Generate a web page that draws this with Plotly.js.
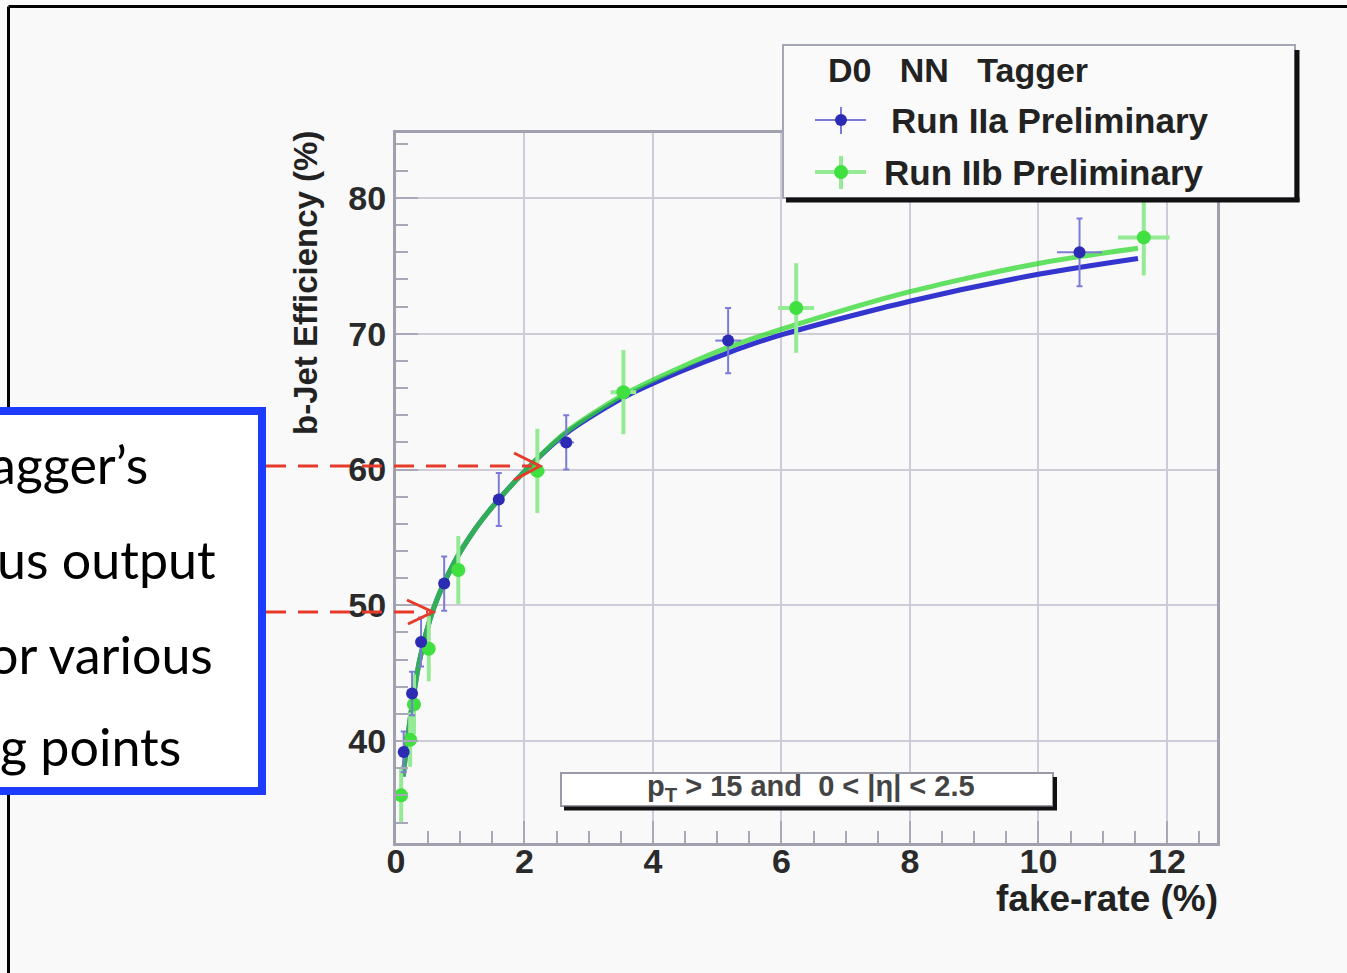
<!DOCTYPE html>
<html><head><meta charset="utf-8">
<script src="https://cdn.plot.ly/plotly-3.0.1.min.js"></script>
<style>html,body{margin:0;padding:0;background:#f9f9f9;overflow:hidden;} #chart{width:1347px;height:973px;}</style>
</head><body><div id="chart"></div>
<script>
// ---- data ----
const runIIaFakeRate = [0.12, 0.25, 0.39, 0.75, 1.60, 2.65, 5.17, 10.64];
const runIIaEff      = [39.2, 43.5, 47.3, 51.6, 57.8, 62.0, 69.5, 76.0];
const runIIaEffErr   = [1.5, 1.6, 1.8, 2.0, 1.95, 2.0, 2.4, 2.5];
const runIIaFakeErr  = [0.03, 0.04, 0.05, 0.06, 0.08, 0.12, 0.2, 0.35];

const runIIbFakeRate = [0.08, 0.22, 0.28, 0.51, 0.97, 2.20, 3.54, 6.23, 11.64];
const runIIbEff      = [36.0, 40.1, 42.7, 46.8, 52.6, 59.9, 65.7, 71.9, 77.1];
const runIIbEffErr   = [2.0, 2.0, 2.2, 2.4, 2.5, 3.1, 3.1, 3.3, 2.8];
const runIIbFakeErr  = [0.03, 0.04, 0.04, 0.05, 0.08, 0.12, 0.2, 0.28, 0.4];

const fitFakeRate = [0.11, 0.14, 0.24, 0.37, 0.58, 0.90, 1.23, 1.51, 2.03, 2.63, 3.54, 4.42, 5.17, 5.98, 8.0, 10.02, 11.55];
const fitIIaEff   = [37.4, 38.6, 42.3, 46.0, 49.7, 53.1, 55.6, 57.3, 60.0, 62.6, 65.3, 67.2, 68.6, 69.9, 72.4, 74.4, 75.55];
const fitIIbEff   = [37.4, 38.6, 42.3, 46.0, 49.7, 53.1, 55.6, 57.3, 60.0, 62.7, 65.5, 67.5, 69.0, 70.3, 73.1, 75.2, 76.3];

const xTickVals = [0, 2, 4, 6, 8, 10, 12];
const yTickVals = [40, 50, 60, 70, 80];
const seriesNames = ['Run IIa Preliminary', 'Run IIb Preliminary'];
const legendTitle = 'D0\u00a0\u00a0\u00a0NN\u00a0\u00a0\u00a0Tagger';
const xTitle = 'fake-rate (%)';
const yTitle = 'b-Jet Efficiency (%)';
const cutLabel = 'p<sub>T</sub> &gt; 15 and\u00a0 0 &lt; |η| &lt; 2.5';
const sideLines = ['agger’s', 'us output', 'or various', 'g points'];

// ---- layout geometry (pixels) ----
const W = 1347, H = 973;
const L = 396, R = 1217, T = 133, B = 843;
const px = v => (v - L) / (R - L);
const py = v => (B - v) / (B - T);
const path = pts => pts.map((p, i) => (i ? 'L' : 'M') + px(p[0]).toFixed(5) + ',' + py(p[1]).toFixed(5)).join(' ');

const FONT = 'Liberation Sans, Arial, Helvetica, sans-serif';
const BLUE = '#2b2bb4', BLUE_ERR = '#7c7cd6', BLUE_LINE = '#3434cf';
const GREEN = '#3fe03f', GREEN_ERR = '#95ea95', GREEN_LINE = '#2fd82f';

const traces = [
  {x: fitFakeRate, y: fitIIaEff, mode: 'lines', line: {color: BLUE_LINE, width: 5, shape: 'spline', smoothing: 0.8}, hoverinfo: 'skip'},
  {x: fitFakeRate, y: fitIIbEff, mode: 'lines', line: {color: GREEN_LINE, width: 5, shape: 'spline', smoothing: 0.8}, opacity: 0.75, hoverinfo: 'skip'},
  {x: runIIbFakeRate, y: runIIbEff, mode: 'markers', name: seriesNames[1],
   marker: {color: GREEN, size: 14},
   error_y: {type: 'data', array: runIIbEffErr, color: GREEN_ERR, thickness: 4, width: 0},
   error_x: {type: 'data', array: runIIbFakeErr, color: GREEN_ERR, thickness: 4, width: 0}},
  {x: runIIaFakeRate, y: runIIaEff, mode: 'markers', name: seriesNames[0],
   marker: {color: BLUE, size: 12},
   error_y: {type: 'data', array: runIIaEffErr, color: BLUE_ERR, thickness: 2, width: 3},
   error_x: {type: 'data', array: runIIaFakeErr, color: BLUE_ERR, thickness: 2, width: 0}}
];

const lineStyle = (c, w, d) => ({color: c, width: w, dash: d || 'solid'});
const shapes = [
  // outer page frame (top + left)
  {type: 'line', xref: 'paper', yref: 'paper', x0: px(8.5), x1: px(W + 5), y0: py(6.5), y1: py(6.5), line: lineStyle('#000', 3)},
  {type: 'line', xref: 'paper', yref: 'paper', x0: px(8.5), x1: px(8.5), y0: py(6.5), y1: py(H + 5), line: lineStyle('#000', 3)},
  // left blue text box
  {type: 'rect', xref: 'paper', yref: 'paper', x0: px(-30), x1: px(262), y0: py(411), y1: py(791), line: lineStyle('#1e3cff', 8), fillcolor: '#ffffff'},
  // red dashed arrows
  {type: 'line', xref: 'paper', yref: 'paper', x0: px(266), x1: px(532), y0: py(466), y1: py(466), line: lineStyle('#e63b2b', 3, '20px,12px')},
  {type: 'path', xref: 'paper', yref: 'paper', path: path([[514, 453], [540, 466], [514, 480]]), line: lineStyle('#e63b2b', 3)},
  {type: 'line', xref: 'paper', yref: 'paper', x0: px(266), x1: px(428), y0: py(612), y1: py(612), line: lineStyle('#e63b2b', 3, '20px,12px')},
  {type: 'path', xref: 'paper', yref: 'paper', path: path([[407, 600], [433, 612], [408, 624]]), line: lineStyle('#e63b2b', 3)},
  // legend box + shadow
  {type: 'rect', xref: 'paper', yref: 'paper', x0: px(783), x1: px(1295), y0: py(45), y1: py(198), line: lineStyle('#a4a6b4', 2), fillcolor: '#fafafa'},
  {type: 'line', xref: 'paper', yref: 'paper', x0: px(1297), x1: px(1297), y0: py(50), y1: py(202), line: lineStyle('#111', 5)},
  {type: 'line', xref: 'paper', yref: 'paper', x0: px(786), x1: px(1299.5), y0: py(200), y1: py(200), line: lineStyle('#111', 5)},
  // legend symbols
  {type: 'line', xref: 'paper', yref: 'paper', x0: px(815), x1: px(866), y0: py(120), y1: py(120), line: lineStyle(BLUE_ERR, 2)},
  {type: 'line', xref: 'paper', yref: 'paper', x0: px(841), x1: px(841), y0: py(107), y1: py(134), line: lineStyle(BLUE_ERR, 2)},
  {type: 'circle', xref: 'paper', yref: 'paper', x0: px(835), x1: px(847), y0: py(114), y1: py(126), line: {width: 0}, fillcolor: BLUE},
  {type: 'line', xref: 'paper', yref: 'paper', x0: px(815), x1: px(866), y0: py(172), y1: py(172), line: lineStyle(GREEN_ERR, 4)},
  {type: 'line', xref: 'paper', yref: 'paper', x0: px(841), x1: px(841), y0: py(156), y1: py(189), line: lineStyle(GREEN_ERR, 4)},
  {type: 'circle', xref: 'paper', yref: 'paper', x0: px(834), x1: px(848), y0: py(165), y1: py(179), line: {width: 0}, fillcolor: GREEN},
  // cut label box + shadow
  {type: 'rect', xref: 'paper', yref: 'paper', x0: px(561), x1: px(1053), y0: py(773), y1: py(806), line: lineStyle('#9a9aa6', 2), fillcolor: '#ffffff'},
  {type: 'line', xref: 'paper', yref: 'paper', x0: px(1055), x1: px(1055), y0: py(777), y1: py(809), line: lineStyle('#111', 4)},
  {type: 'line', xref: 'paper', yref: 'paper', x0: px(564), x1: px(1057), y0: py(808.5), y1: py(808.5), line: lineStyle('#111', 4)}
];

const bold = (size, color) => ({family: FONT, size: size, color: color || '#222', weight: 'bold'});
const ann = (text, x, y, font, extra) => Object.assign({text: text, xref: 'paper', yref: 'paper', x: px(x), y: py(y), showarrow: false, font: font, xanchor: 'center', yanchor: 'middle'}, extra || {});

const sideFont = {family: 'Comic Sans MS, Lato, Open Sans, sans-serif', size: 52, color: '#000'};
const annotations = [
  ann(yTitle, 305, 283, bold(33), {textangle: -90}),
  ann(xTitle, 1220, 899, bold(37), {xanchor: 'right'}),
  ann(legendTitle, 826, 70, bold(34), {xanchor: 'left'}),
  ann(seriesNames[0], 889, 120, bold(35), {xanchor: 'left'}),
  ann(seriesNames[1], 882, 172, bold(35), {xanchor: 'left'}),
  ann(cutLabel, 811, 788, bold(29, '#444')),
  ann(sideLines[0], 150, 464, sideFont, {xanchor: 'right'}),
  ann(sideLines[1], 218, 559, sideFont, {xanchor: 'right'}),
  ann(sideLines[2], 215, 654, sideFont, {xanchor: 'right'}),
  ann(sideLines[3], 183, 746, sideFont, {xanchor: 'right'})
];

const axisCommon = {
  ticks: 'inside', ticklen: 22, tickwidth: 2, tickcolor: '#a8a8b6',
  showgrid: true, gridcolor: '#cfcbd8', gridwidth: 2,
  showline: true, linecolor: '#a0a0ae', linewidth: 3, mirror: true,
  zeroline: false, tickfont: bold(34, '#2a2a2a'), fixedrange: true
};

const layout = {
  width: W, height: H,
  margin: {l: L, r: W - R, t: T, b: H - B, pad: 0},
  paper_bgcolor: '#f9f9f9', plot_bgcolor: '#f9f9f9',
  showlegend: false,
  xaxis: Object.assign({}, axisCommon, {range: [0, 12.78], tickvals: xTickVals, ticklabelstandoff: -14,
    minor: {dtick: 0.5, tick0: 0, ticks: 'inside', ticklen: 12, tickwidth: 2, tickcolor: '#a8a8b6', showgrid: false}}),
  yaxis: Object.assign({}, axisCommon, {range: [32.49, 84.79], tickvals: yTickVals,
    minor: {dtick: 2, tick0: 0, ticks: 'inside', ticklen: 12, tickwidth: 2, tickcolor: '#a8a8b6', showgrid: false}}),
  shapes: shapes,
  annotations: annotations
};

Plotly.newPlot('chart', traces, layout, {staticPlot: true, displayModeBar: false});
</script>
</body></html>
